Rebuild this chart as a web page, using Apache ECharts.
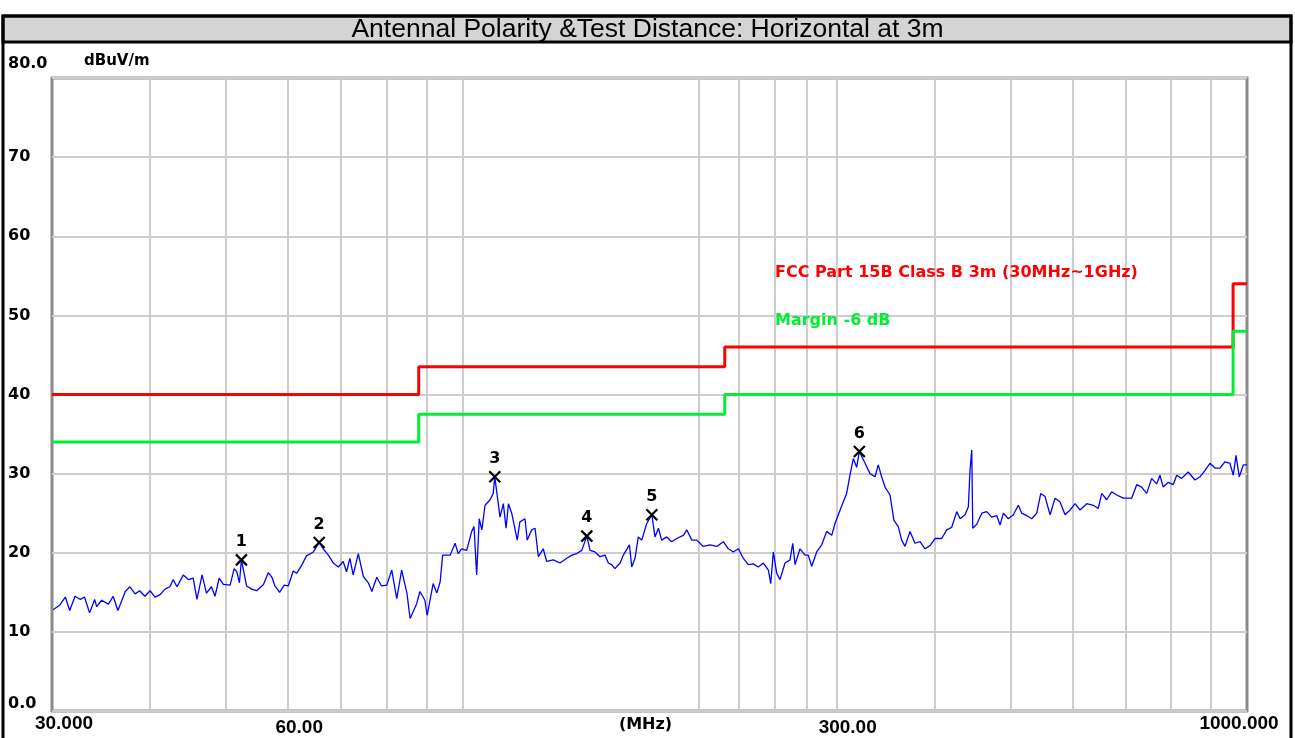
<!DOCTYPE html>
<html>
<head>
<meta charset="utf-8">
<title>Antennal Polarity &Test Distance: Horizontal at 3m</title>
<script src="https://cdn.jsdelivr.net/npm/echarts@6/dist/echarts.min.js"></script>
<style>
  html, body { margin: 0; padding: 0; background: #fff; }
  #chart { width: 1295px; height: 738px; }
</style>
</head>
<body>
<div id="chart"></div>
<script>
// measured trace, frequency in MHz / level in dBuV/m
var traceFreq = [
  30.1, 30.7, 31.2, 31.6, 32.1, 32.6, 33.0, 33.5, 34.0, 34.2, 34.7, 35.4, 35.9, 36.4, 37.2, 37.7, 38.3, 38.8, 39.4, 40.0,
  40.6, 41.2, 41.8, 42.4, 42.8, 43.3, 44.1, 44.8, 45.4, 45.9, 46.6, 47.2, 47.9, 48.4, 49.0, 49.6, 50.6, 51.2, 51.6, 52.0,
  52.3, 53.1, 53.9, 54.7, 55.8, 56.6, 57.2, 57.7, 58.5, 59.3, 60.0, 60.9, 61.5, 62.4, 63.3, 64.6, 65.7, 66.5, 67.5, 68.5,
  69.5, 70.5, 71.2, 71.9, 72.6, 73.7, 74.8, 75.9, 76.7, 77.8, 78.9, 80.1, 81.3, 82.5, 83.7, 85.0, 85.8, 87.5, 88.3, 89.6,
  90.2, 91.8, 92.8, 93.7, 94.4, 96.5, 97.9, 98.8, 99.8, 101.3, 102.8, 103.5, 104.3, 105.1, 105.9, 106.9, 108.5, 109.5, 110.0, 111.7,
  112.8, 113.7, 114.5, 115.6, 117.5, 118.4, 120.2, 121.0, 122.6, 123.8, 125.0, 126.8, 128.1, 130.6, 133.2, 135.9, 137.9, 139.9, 142.0, 144.1,
  145.5, 147.6, 149.8, 152.0, 153.5, 155.0, 156.5, 158.9, 160.4, 163.3, 164.4, 166.0, 167.6, 169.3, 171.8, 174.4, 176.0, 177.8, 179.5, 182.2,
  184.9, 187.6, 191.3, 193.2, 196.1, 199.0, 202.8, 206.9, 211.0, 215.1, 218.3, 221.5, 224.8, 228.1, 231.5, 234.9, 238.4, 241.9, 245.5, 247.2,
  249.1, 251.6, 254.0, 257.8, 261.6, 263.7, 265.5, 269.4, 273.4, 276.0, 278.8, 282.9, 287.1, 291.3, 295.7, 298.5, 304.4, 308.9, 311.9, 315.0,
  318.1, 320.6, 326.0, 330.8, 335.7, 338.9, 342.3, 345.7, 350.8, 354.9, 359.4, 363.0, 366.6, 372.0, 377.5, 383.1, 388.7, 394.5, 400.3, 408.3,
  414.3, 420.4, 426.7, 430.8, 437.2, 441.5, 443.6, 445.9, 447.2, 452.5, 459.2, 465.9, 472.8, 479.8, 484.5, 489.2, 496.4, 503.8, 511.2, 516.3,
  524.0, 531.7, 539.6, 546.0, 552.9, 561.1, 569.4, 577.8, 586.3, 595.0, 603.8, 612.7, 624.8, 637.0, 646.4, 652.9, 662.5, 672.3, 682.2, 695.6,
  712.9, 723.5, 734.1, 745.0, 756.0, 767.1, 774.6, 782.1, 793.7, 805.4, 813.5, 825.5, 841.6, 858.5, 871.2, 884.1, 897.1, 910.4, 923.8, 937.5,
  951.3, 960.6, 968.2, 977.6, 989.2, 1000
];
var traceLevel = [
  12.8, 13.4, 14.4, 12.7, 14.5, 14.1, 14.4, 12.4, 14.1, 13.2, 14.0, 13.5, 14.5, 12.7, 15.1, 15.7, 14.8, 15.2, 14.5, 15.2,
  14.4, 14.7, 15.4, 15.7, 16.6, 15.7, 17.2, 16.6, 16.8, 14.1, 17.2, 14.9, 15.7, 14.5, 16.8, 16.0, 15.9, 18.0, 17.6, 16.2,
  19.1, 15.8, 15.4, 15.2, 16.0, 17.5, 16.9, 15.8, 15.0, 15.9, 15.8, 17.7, 17.4, 18.4, 19.6, 20.1, 21.3, 20.5, 19.7, 18.7,
  18.2, 18.9, 17.6, 19.3, 17.2, 19.9, 17.0, 16.2, 15.1, 16.9, 15.8, 15.9, 17.8, 14.2, 17.8, 14.9, 11.7, 13.6, 15.1, 14.0,
  12.1, 16.1, 14.9, 16.3, 19.7, 19.7, 21.2, 19.9, 20.5, 20.3, 22.7, 23.3, 17.2, 24.3, 22.9, 26.0, 26.7, 27.5, 29.6, 24.5,
  26.2, 23.1, 26.2, 25.0, 21.6, 23.9, 24.3, 21.6, 22.9, 23.1, 19.5, 20.5, 18.9, 19.1, 18.7, 19.3, 19.7, 19.9, 20.3, 22.1,
  20.3, 20.1, 19.5, 19.7, 18.7, 18.5, 18.0, 18.7, 19.7, 21.0, 18.2, 19.3, 22.0, 21.6, 23.7, 24.8, 22.0, 23.1, 21.6, 22.0,
  21.4, 21.8, 22.2, 22.9, 21.6, 21.6, 20.8, 21.0, 20.8, 21.4, 20.5, 20.1, 20.5, 19.3, 18.5, 18.6, 18.2, 18.7, 17.8, 16.1,
  20.1, 17.4, 16.6, 18.7, 19.1, 21.2, 18.5, 20.5, 19.7, 19.7, 18.3, 20.1, 21.0, 22.7, 22.2, 23.7, 25.9, 27.5, 29.8, 31.9,
  30.8, 32.8, 31.3, 30.0, 29.6, 31.1, 29.6, 28.3, 27.3, 24.1, 23.3, 21.6, 20.8, 22.7, 21.2, 21.4, 20.5, 20.9, 21.8, 21.8,
  22.9, 23.2, 25.2, 24.3, 24.8, 25.8, 30.4, 33.0, 23.1, 23.6, 25.0, 25.2, 24.5, 24.7, 23.5, 25.0, 24.3, 24.8, 26.0, 25.0,
  24.7, 24.3, 25.0, 27.5, 27.1, 24.8, 26.9, 26.4, 24.8, 25.4, 26.2, 25.4, 26.2, 26.0, 25.6, 27.5, 26.7, 27.7, 27.3, 26.9,
  26.9, 28.6, 28.3, 27.5, 29.4, 28.7, 29.8, 28.3, 28.9, 28.6, 29.8, 29.4, 30.2, 29.2, 29.6, 30.4, 31.3, 30.7, 30.7, 31.5,
  31.3, 29.8, 32.3, 29.6, 31.1, 31.1
];

// FCC Part 15B class B limit and the -6 dB margin line
var limitFreq = [30, 88, 216, 960, 1000];
var limitLevel = [40, 43.5, 46, 54, 54];
var marginLevel = [34, 37.5, 40, 48, 48];
var limitName = 'FCC Part 15B Class B 3m (30MHz~1GHz)';
var marginName = 'Margin -6 dB';

// peak markers
var markFreq = [52.3, 65.7, 110.0, 144.1, 174.4, 320.6];
var markLevel = [19.1, 21.3, 29.6, 22.1, 24.8, 32.8];
var markNo = ['1', '2', '3', '4', '5', '6'];

// axis ticks
var gridFreq = [40, 50, 60, 70, 80, 90, 100, 200, 225, 250, 275, 300, 400, 500, 600, 700, 800, 900];
var xLabelFreq = [30, 60, 300, 1000];
var xLabelText = ['30.000', '60.00', '300.00', '1000.000'];
var yTicks = [0, 10, 20, 30, 40, 50, 60, 70, 80];
var yLabelText = ['0.0', '10', '20', '30', '40', '50', '60', '70', '80.0'];

function pairs(xs, ys) {
  return xs.map(function (x, i) { return [x, ys[i]]; });
}

var chart = echarts.init(document.getElementById('chart'));
var boldFont = 'DejaVu Sans';

var option = {
  animation: false,
  backgroundColor: '#fff',
  graphic: [
    {
      type: 'rect', z: -10,
      shape: { x: 3, y: 16, width: 1288, height: 26 },
      style: { fill: '#d4d4d4', stroke: '#000', lineWidth: 3 }
    },
    {
      type: 'rect', z: -10,
      shape: { x: 3, y: 16, width: 1288, height: 730 },
      style: { fill: 'none', stroke: '#000', lineWidth: 3 }
    }
  ],
  title: {
    text: 'Antennal Polarity &Test Distance: Horizontal at 3m',
    left: 'center',
    top: 16,
    padding: 0,
    textStyle: { fontFamily: 'Liberation Sans', fontWeight: 'normal', fontSize: 26.5, color: '#000' }
  },
  legend: {
    data: [
      { name: limitName, textStyle: { color: '#ff0000' } },
      { name: marginName, textStyle: { color: '#00ee33' } }
    ],
    orient: 'vertical',
    left: 765,
    top: 260,
    icon: 'none',
    itemWidth: 0,
    itemGap: 32,
    selectedMode: false,
    textStyle: { fontFamily: boldFont, fontWeight: 'bold', fontSize: 16 }
  },
  grid: {
    left: 52, right: 48, top: 78, bottom: 27,
    outerBoundsMode: 'none',
    containLabel: false,
    show: true,
    borderColor: '#8a8a8a',
    borderWidth: 3
  },
  xAxis: {
    type: 'log',
    logBase: 10,
    min: 30,
    max: 1000,
    axisLine: { show: false },
    axisTick: { show: false, customValues: gridFreq },
    splitLine: { show: true, lineStyle: { color: '#cdcdcd', width: 2 } },
    axisLabel: {
      customValues: xLabelFreq,
      margin: 3,
      color: '#000',
      formatter: function (v) {
        var i = xLabelFreq.indexOf(v);
        var t = i < 0 ? '' : xLabelText[i];
        if (v === 30) return '{a|' + t + '}';
        if (v === 1000) return '{c|' + t + '}';
        return '{b|' + t + '}';
      },
      rich: {
        a: { fontFamily: 'Liberation Sans', fontWeight: 'bold', fontSize: 19, padding: [0, 0, 0, 24] },
        b: { fontFamily: 'Liberation Sans', fontWeight: 'bold', fontSize: 19, padding: [4, 0, 0, 22] },
        c: { fontFamily: 'Liberation Sans', fontWeight: 'bold', fontSize: 19, padding: [0, 16, 0, 0] }
      }
    },
    name: '(MHz)',
    nameLocation: 'middle',
    nameGap: 6,
    nameMoveOverlap: false,
    nameTextStyle: { fontFamily: boldFont, fontWeight: 'bold', fontSize: 16, color: '#000', padding: [0, 8, 0, 0] }
  },
  yAxis: {
    type: 'value',
    min: 0,
    max: 80,
    interval: 10,
    axisLine: { show: false },
    axisTick: { show: false },
    splitLine: { lineStyle: { color: '#cdcdcd', width: 2 } },
    axisLabel: {
      align: 'left',
      margin: 44,
      color: '#000',
      formatter: function (v) {
        var t = yLabelText[yTicks.indexOf(v)];
        if (v === 80) return '{t|' + t + '}';
        if (v === 0) return '{z|' + t + '}';
        return '{m|' + t + '}';
      },
      rich: {
        t: { fontFamily: boldFont, fontWeight: 'bold', fontSize: 16, padding: [0, 0, 28, 0] },
        z: { fontFamily: boldFont, fontWeight: 'bold', fontSize: 16, padding: [0, 0, 14, 0] },
        m: { fontFamily: boldFont, fontWeight: 'bold', fontSize: 16 }
      }
    },
    name: 'dBuV/m',
    nameLocation: 'end',
    nameGap: 9,
    nameMoveOverlap: false,
    nameTextStyle: { fontFamily: boldFont, fontWeight: 'bold', fontSize: 15, color: '#000', align: 'left', padding: [0, 0, 0, 32] }
  },
  series: [
    {
      name: 'trace',
      type: 'line',
      data: pairs(traceFreq, traceLevel),
      symbol: 'none',
      lineStyle: { color: '#0000ff', width: 1.3 },
      z: 3
    },
    {
      name: limitName,
      type: 'line',
      step: 'end',
      data: pairs(limitFreq, limitLevel),
      symbol: 'none',
      itemStyle: { color: '#ff0000' },
      lineStyle: { color: '#ff0000', width: 3 },
      z: 2
    },
    {
      name: marginName,
      type: 'line',
      step: 'end',
      data: pairs(limitFreq, marginLevel),
      symbol: 'none',
      itemStyle: { color: '#00ee33' },
      lineStyle: { color: '#00ee33', width: 3 },
      z: 2
    },
    {
      name: 'markers',
      type: 'scatter',
      data: markFreq.map(function (f, i) {
        return { name: markNo[i], value: [f, markLevel[i]] };
      }),
      symbol: 'path://M0,0L10,10M10,0L0,10',
      symbolSize: 11,
      itemStyle: { color: 'none', borderColor: '#000', borderWidth: 2.2, opacity: 1 },
      label: {
        show: true,
        position: 'top',
        distance: 2,
        formatter: function (p) { return p.name; },
        fontFamily: boldFont,
        fontWeight: 'bold',
        fontSize: 16,
        color: '#000'
      },
      z: 5
    }
  ]
};

chart.setOption(option);
</script>
</body>
</html>
